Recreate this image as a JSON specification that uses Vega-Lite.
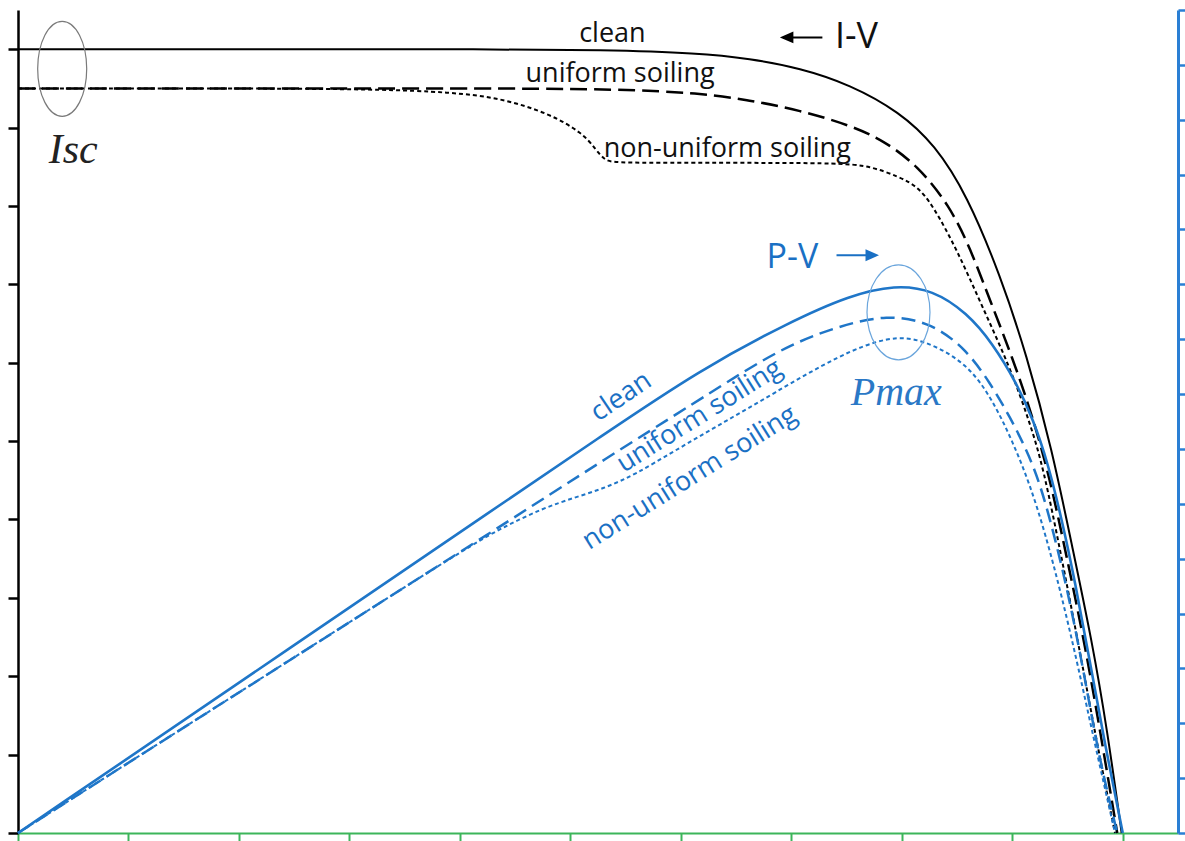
{
  "$schema": "https://vega.github.io/schema/vega-lite/v6.json",
  "width": 1160,
  "height": 823,
  "autosize": {"type": "none"},
  "padding": {"left": 18, "top": 10, "right": 7, "bottom": 8},
  "background": "white",
  "config": {"view": {"stroke": null}},
  "datasets": {
    "iv": [
      {"s": "clean", "V": 0, "I": 10}, {"s": "clean", "V": 2, "I": 10}, {"s": "clean", "V": 4.36, "I": 10},
      {"s": "clean", "V": 5.27, "I": 9.99}, {"s": "clean", "V": 6.17, "I": 9.95}, {"s": "clean", "V": 6.62, "I": 9.88},
      {"s": "clean", "V": 7.08, "I": 9.76}, {"s": "clean", "V": 7.53, "I": 9.55}, {"s": "clean", "V": 7.98, "I": 9.2},
      {"s": "clean", "V": 8.3, "I": 8.78}, {"s": "clean", "V": 8.59, "I": 8.14}, {"s": "clean", "V": 8.89, "I": 7.12},
      {"s": "clean", "V": 9.13, "I": 6.1}, {"s": "clean", "V": 9.36, "I": 4.89}, {"s": "clean", "V": 9.54, "I": 3.67},
      {"s": "clean", "V": 9.72, "I": 2.46}, {"s": "clean", "V": 9.86, "I": 1.31}, {"s": "clean", "V": 9.99, "I": 0},
      {"s": "uniform", "V": 0, "I": 9.5}, {"s": "uniform", "V": 2, "I": 9.5}, {"s": "uniform", "V": 4.36, "I": 9.5},
      {"s": "uniform", "V": 5.45, "I": 9.49}, {"s": "uniform", "V": 6.17, "I": 9.44}, {"s": "uniform", "V": 6.62, "I": 9.35},
      {"s": "uniform", "V": 7.08, "I": 9.22}, {"s": "uniform", "V": 7.53, "I": 9.03}, {"s": "uniform", "V": 7.83, "I": 8.84},
      {"s": "uniform", "V": 8.14, "I": 8.52}, {"s": "uniform", "V": 8.43, "I": 8.01}, {"s": "uniform", "V": 8.62, "I": 7.46},
      {"s": "uniform", "V": 8.8, "I": 6.79}, {"s": "uniform", "V": 9.0, "I": 6.07}, {"s": "uniform", "V": 9.18, "I": 5.33},
      {"s": "uniform", "V": 9.34, "I": 4.53}, {"s": "uniform", "V": 9.49, "I": 3.54}, {"s": "uniform", "V": 9.66, "I": 2.39},
      {"s": "uniform", "V": 9.81, "I": 1.18}, {"s": "uniform", "V": 9.95, "I": 0},
      {"s": "nonuniform", "V": 0, "I": 9.5}, {"s": "nonuniform", "V": 2, "I": 9.5}, {"s": "nonuniform", "V": 3.28, "I": 9.49},
      {"s": "nonuniform", "V": 3.91, "I": 9.45}, {"s": "nonuniform", "V": 4.36, "I": 9.38}, {"s": "nonuniform", "V": 4.81, "I": 9.18},
      {"s": "nonuniform", "V": 5.11, "I": 8.93}, {"s": "nonuniform", "V": 5.22, "I": 8.74}, {"s": "nonuniform", "V": 5.31, "I": 8.58},
      {"s": "nonuniform", "V": 5.4, "I": 8.55}, {"s": "nonuniform", "V": 6.17, "I": 8.55}, {"s": "nonuniform", "V": 7.44, "I": 8.55},
      {"s": "nonuniform", "V": 7.71, "I": 8.51}, {"s": "nonuniform", "V": 7.98, "I": 8.37}, {"s": "nonuniform", "V": 8.14, "I": 8.25},
      {"s": "nonuniform", "V": 8.28, "I": 8.01}, {"s": "nonuniform", "V": 8.5, "I": 7.44}, {"s": "nonuniform", "V": 8.73, "I": 6.71},
      {"s": "nonuniform", "V": 8.98, "I": 5.94}, {"s": "nonuniform", "V": 9.16, "I": 5.23}, {"s": "nonuniform", "V": 9.28, "I": 4.67},
      {"s": "nonuniform", "V": 9.45, "I": 3.49}, {"s": "nonuniform", "V": 9.61, "I": 2.33}, {"s": "nonuniform", "V": 9.77, "I": 1.12},
      {"s": "nonuniform", "V": 9.93, "I": 0}
    ],
    "pv": [
      {"s": "clean", "V": 0, "P": 0}, {"s": "clean", "V": 2.6, "P": 3.56}, {"s": "clean", "V": 4.4, "P": 6.03},
      {"s": "clean", "V": 5.27, "P": 7.22}, {"s": "clean", "V": 6.17, "P": 8.44}, {"s": "clean", "V": 6.99, "P": 9.32},
      {"s": "clean", "V": 7.53, "P": 9.8}, {"s": "clean", "V": 7.94, "P": 9.99}, {"s": "clean", "V": 8.28, "P": 9.9},
      {"s": "clean", "V": 8.59, "P": 9.48}, {"s": "clean", "V": 8.82, "P": 8.93}, {"s": "clean", "V": 9.04, "P": 8.2},
      {"s": "clean", "V": 9.19, "P": 7.53}, {"s": "clean", "V": 9.32, "P": 6.76}, {"s": "clean", "V": 9.45, "P": 5.7},
      {"s": "clean", "V": 9.57, "P": 4.56}, {"s": "clean", "V": 9.7, "P": 3.15}, {"s": "clean", "V": 9.84, "P": 1.6},
      {"s": "clean", "V": 10.0, "P": 0},
      {"s": "uniform", "V": 0, "P": 0}, {"s": "uniform", "V": 2.6, "P": 3.33}, {"s": "uniform", "V": 4.4, "P": 5.63},
      {"s": "uniform", "V": 5.27, "P": 6.76}, {"s": "uniform", "V": 6.17, "P": 7.9}, {"s": "uniform", "V": 6.6, "P": 8.45},
      {"s": "uniform", "V": 6.99, "P": 8.9}, {"s": "uniform", "V": 7.4, "P": 9.22}, {"s": "uniform", "V": 7.87, "P": 9.46},
      {"s": "uniform", "V": 8.28, "P": 9.29}, {"s": "uniform", "V": 8.59, "P": 8.8}, {"s": "uniform", "V": 8.8, "P": 8.2},
      {"s": "uniform", "V": 8.98, "P": 7.58}, {"s": "uniform", "V": 9.13, "P": 6.98}, {"s": "uniform", "V": 9.25, "P": 6.38},
      {"s": "uniform", "V": 9.38, "P": 5.43}, {"s": "uniform", "V": 9.52, "P": 4.25}, {"s": "uniform", "V": 9.66, "P": 2.79},
      {"s": "uniform", "V": 9.79, "P": 1.33}, {"s": "uniform", "V": 9.95, "P": 0},
      {"s": "nonuniform", "V": 0, "P": 0}, {"s": "nonuniform", "V": 2.6, "P": 3.33}, {"s": "nonuniform", "V": 4.1, "P": 5.25},
      {"s": "nonuniform", "V": 4.4, "P": 5.58}, {"s": "nonuniform", "V": 4.75, "P": 5.92}, {"s": "nonuniform", "V": 5.05, "P": 6.12},
      {"s": "nonuniform", "V": 5.33, "P": 6.3}, {"s": "nonuniform", "V": 5.6, "P": 6.55}, {"s": "nonuniform", "V": 5.93, "P": 6.95},
      {"s": "nonuniform", "V": 6.4, "P": 7.5}, {"s": "nonuniform", "V": 6.83, "P": 8.0}, {"s": "nonuniform", "V": 7.44, "P": 8.72},
      {"s": "nonuniform", "V": 7.89, "P": 9.06}, {"s": "nonuniform", "V": 8.19, "P": 9.0}, {"s": "nonuniform", "V": 8.59, "P": 8.57},
      {"s": "nonuniform", "V": 8.82, "P": 7.9}, {"s": "nonuniform", "V": 9.0, "P": 7.15}, {"s": "nonuniform", "V": 9.16, "P": 6.35},
      {"s": "nonuniform", "V": 9.3, "P": 5.45}, {"s": "nonuniform", "V": 9.45, "P": 4.3}, {"s": "nonuniform", "V": 9.6, "P": 3.0},
      {"s": "nonuniform", "V": 9.75, "P": 1.6}, {"s": "nonuniform", "V": 9.93, "P": 0}
    ]
  },
  "encoding": {
    "x": {
      "field": "V", "type": "quantitative",
      "scale": {"domain": [0, 10.5], "nice": false, "zero": false},
      "axis": {"orient": "bottom", "values": [0, 1, 2, 3, 4, 5, 6, 7, 8, 9, 10], "labels": false, "title": null, "grid": false,
               "domainColor": "#3cb55a", "domainWidth": 2, "tickColor": "#3cb55a", "tickWidth": 2, "tickSize": 8}
    }
  },
  "layer": [
    {
      "encoding": {
        "y": {
          "field": "I", "type": "quantitative",
          "scale": {"domain": [0, 10.5], "nice": false, "zero": false},
          "axis": {"orient": "left", "values": [0, 1, 2, 3, 4, 5, 6, 7, 8, 9, 10], "labels": false, "title": null, "grid": false,
                   "domainColor": "#000000", "domainWidth": 2.5, "tickColor": "#000000", "tickWidth": 2.5, "tickSize": 10}
        }
      },
      "layer": [
        {"data": {"name": "iv"}, "transform": [{"filter": "datum.s === 'clean'"}],
         "mark": {"type": "line", "color": "#000000", "strokeWidth": 2, "interpolate": "basis"}},
        {"data": {"name": "iv"}, "transform": [{"filter": "datum.s === 'uniform'"}],
         "mark": {"type": "line", "color": "#000000", "strokeWidth": 2.5, "strokeDash": [17, 7], "interpolate": "basis"}},
        {"data": {"name": "iv"}, "transform": [{"filter": "datum.s === 'nonuniform'"}],
         "mark": {"type": "line", "color": "#000000", "strokeWidth": 2, "strokeDash": [4, 3], "interpolate": "basis"}},
        {"data": {"values": [{"V": 5.38, "I": 10.09, "t": "clean"}, {"V": 5.45, "I": 9.58, "t": "uniform soiling"}, {"V": 6.42, "I": 8.62, "t": "non-uniform soiling"}]},
         "mark": {"type": "text", "font": "Open Sans", "fontSize": 27, "color": "#111111", "align": "center", "baseline": "alphabetic"},
         "encoding": {"text": {"field": "t"}}},
        {"data": {"values": [{"V": 7.59, "I": 10.01, "t": "I-V"}]},
         "mark": {"type": "text", "font": "Open Sans", "fontSize": 36, "color": "#111111", "align": "center", "baseline": "alphabetic"},
         "encoding": {"text": {"field": "t"}}},
        {"data": {"values": [{"V": 7.10, "I": 10.15}]},
         "mark": {"type": "point", "shape": "M -1 0 L 1 0 M -1 0 L -0.5 -0.22 L -0.5 0.22 Z", "size": 1600, "filled": true, "fill": "#000000", "stroke": "#000000", "strokeWidth": 2, "opacity": 1}},
        {"data": {"values": [{"V": 0.5, "I": 8.55, "t": "Isc"}]},
         "mark": {"type": "text", "font": "Liberation Serif", "fontStyle": "italic", "fontSize": 42, "color": "#222222", "align": "center", "baseline": "alphabetic"},
         "encoding": {"text": {"field": "t"}}},
        {"data": {"values": [{"V": 0.4, "I": 9.75}]},
         "mark": {"type": "point", "shape": "M -0.516 0 A 0.516 1 0 1 0 0.516 0 A 0.516 1 0 1 0 -0.516 0 Z", "size": 9025, "filled": false, "stroke": "#7a7a7a", "strokeWidth": 1.2, "opacity": 1}}
      ]
    },
    {
      "encoding": {
        "y": {
          "field": "P", "type": "quantitative",
          "scale": {"domain": [0, 15], "nice": false, "zero": false},
          "axis": {"orient": "right", "values": [0, 1, 2, 3, 4, 5, 6, 7, 8, 9, 10, 11, 12, 13, 14, 15], "labels": false, "title": null, "grid": false,
                   "domainColor": "#2a7fd4", "domainWidth": 3, "tickColor": "#2a7fd4", "tickWidth": 2.5, "tickSize": 7}
        }
      },
      "layer": [
        {"data": {"name": "pv"}, "transform": [{"filter": "datum.s === 'clean'"}],
         "mark": {"type": "line", "color": "#1f76c8", "strokeWidth": 2.6, "interpolate": "basis"}},
        {"data": {"name": "pv"}, "transform": [{"filter": "datum.s === 'uniform'"}],
         "mark": {"type": "line", "color": "#1f76c8", "strokeWidth": 2.5, "strokeDash": [14, 7], "interpolate": "basis"}},
        {"data": {"name": "pv"}, "transform": [{"filter": "datum.s === 'nonuniform'"}],
         "mark": {"type": "line", "color": "#1f76c8", "strokeWidth": 2, "strokeDash": [4, 3], "interpolate": "basis"}},
        {"data": {"values": [{"V": 5.46, "P": 7.95, "t": "clean"}]},
         "mark": {"type": "text", "font": "Open Sans", "fontSize": 27, "color": "#1a70c4", "align": "center", "baseline": "middle", "angle": -34},
         "encoding": {"text": {"field": "t"}}},
        {"data": {"values": [{"V": 6.17, "P": 7.6, "t": "uniform soiling"}]},
         "mark": {"type": "text", "font": "Open Sans", "fontSize": 27, "color": "#1a70c4", "align": "center", "baseline": "middle", "angle": -32},
         "encoding": {"text": {"field": "t"}}},
        {"data": {"values": [{"V": 6.08, "P": 6.47, "t": "non-uniform soiling"}]},
         "mark": {"type": "text", "font": "Open Sans", "fontSize": 27, "color": "#1a70c4", "align": "center", "baseline": "middle", "angle": -32},
         "encoding": {"text": {"field": "t"}}},
        {"data": {"values": [{"V": 7.01, "P": 10.3, "t": "P-V"}]},
         "mark": {"type": "text", "font": "Open Sans", "fontSize": 34, "color": "#1a70c4", "align": "center", "baseline": "alphabetic"},
         "encoding": {"text": {"field": "t"}}},
        {"data": {"values": [{"V": 7.59, "P": 10.53}]},
         "mark": {"type": "point", "shape": "M 1 0 L -1 0 M 1 0 L 0.5 -0.22 L 0.5 0.22 Z", "size": 1600, "filled": true, "fill": "#1a70c4", "stroke": "#1a70c4", "strokeWidth": 2, "opacity": 1}},
        {"data": {"values": [{"V": 7.95, "P": 7.8, "t": "Pmax"}]},
         "mark": {"type": "text", "font": "Liberation Serif", "fontStyle": "italic", "fontSize": 40, "color": "#2a78c6", "align": "center", "baseline": "alphabetic"},
         "encoding": {"text": {"field": "t"}}},
        {"data": {"values": [{"V": 7.97, "P": 9.49}]},
         "mark": {"type": "point", "shape": "M -0.663 0 A 0.663 1 0 1 0 0.663 0 A 0.663 1 0 1 0 -0.663 0 Z", "size": 9025, "filled": false, "stroke": "#6aa5dc", "strokeWidth": 1.2, "opacity": 1}}
      ]
    }
  ],
  "resolve": {"scale": {"y": "independent"}}
}
